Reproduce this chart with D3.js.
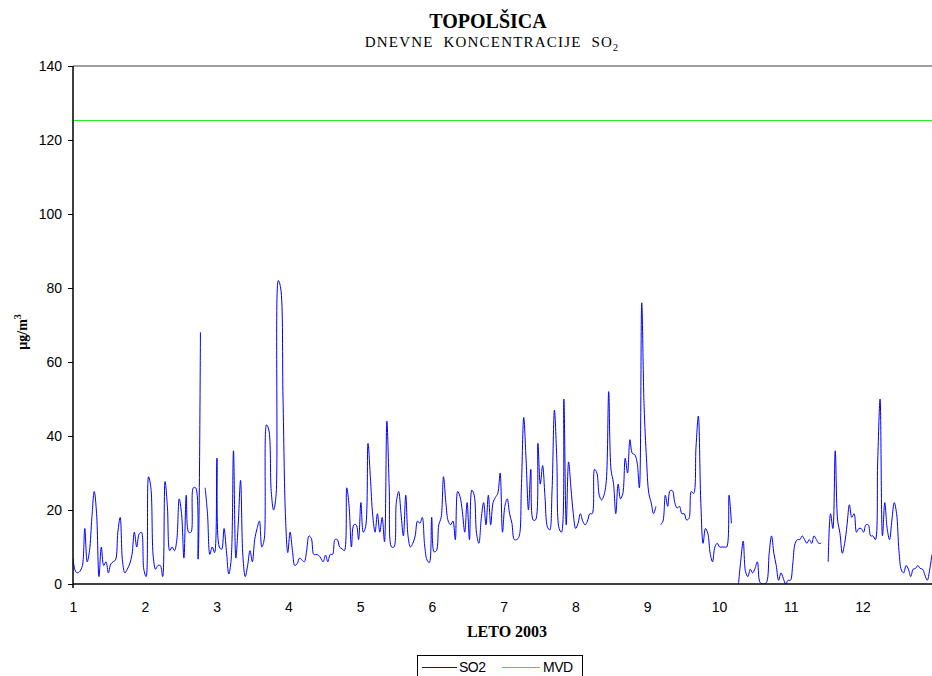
<!DOCTYPE html>
<html>
<head>
<meta charset="utf-8">
<script src="https://cdn.jsdelivr.net/npm/d3@7"></script>
<style>
  body { margin: 0; background: #fff; }
  svg { display: block; }
</style>
</head>
<body>
<svg id="chart" width="932" height="676"></svg>
<script>
// ---------- data ----------
const titleText = "TOPOLŠICA";
const subtitleText = "DNEVNE  KONCENTRACIJE  SO";
const xTitle = "LETO 2003";
const monthLabels = ["1","2","3","4","5","6","7","8","9","10","11","12"];
const yTicks = [0, 20, 40, 60, 80, 100, 120, 140];
const mvdLimit = 125;
const seriesNames = ["SO2", "MVD"];

// daily SO2 concentrations (µg/m3), day 0 = 1 Jan 2003; null = missing
const so2Daily = [
  7, 3.5, 3, 3.5, 5, 15, 6, 9, 18, 25,
  19, 2, 10, 5, 6, 3, 5.4, 6, 6.5, 14,
  18, 6, 3, 4, 5.4, 8, 14, 10, 13.5, 14,
  4, 2, 29, 26, 7.4, 4, 5, 5, 2, 27.7,
  21, 9, 10, 9, 12, 23, 19, 7, 24, 14,
  14, 26, 26, 6.7, 68, null, 26, 19, 8, 10,
  8.5, 34, 10, 9.4, 15, 9, 2.7, 6.5, 36, 7,
  16, 28, 7.4, 2, 5, 9, 6, 12, 15, 17,
  10, 12, 43, 41.6, 25, 20, 23.6, 82, 80, 50,
  19, 8.5, 14, 9, 5, 5.5, 7, 6.5, 6, 9,
  13, 12.3, 8, 8, 7.8, 7, 6, 7.8, 6, 8,
  8, 12, 12, 10, 9.5, 9, 26, 21, 10, 16,
  16, 12, 22, 14, 15.5, 38, 29, 18.6, 14, 19,
  14, 18, 11.4, 44, 26, 10, 10, 22, 25, 19,
  13, 24, 12.8, 10, 11, 13, 17, 16.4, 18, 10.5,
  6.5, 5.8, 18, 8.7, 9, 16, 18, 29, 22, 17,
  16, 17, 12, 25, 23.6, 19.5, 14, 22, 12, 25.4,
  24, 13.7, 11, 17.7, 22, 16, 24, 16, 22, 23.4,
  24.5, 30, 14, 21, 23, 19, 16.4, 12, 12, 12.8,
  26, 45, 33.5, 20, 31, 17.3, 17.3, 38, 27, 32,
  23.6, 15.5, 14.6, 25.4, 47, 34, 15, 14, 50, 16,
  33, 26, 19, 15, 16.4, 19, 17, 16, 17, 19,
  19, 31, 30, 24, 22.7, 24, 28, 52, 30.8, 27.4,
  19, 27, 23, 24.5, 34, 30, 39, 35.3, 35, 33,
  26, 76, 48, 34, 24.5, 22, 19, 21, null, 16,
  17, 24, 21, 25.2, 25.2, 22, 20.5, 21, 19, 19,
  17.3, 17.7, 25, 24.5, 37, 45.4, 22.7, 11, 15, 13.7,
  8.3, 6, 10, 11, 10, 10, 10, 10, 24, 16.4,
  null, null, 0, 6.5, 11.6, 3.3, 2, 4, 3, 4.2,
  6, 0.6, 0, 0, 0.6, 8.3, 13, 8.3, 5, 1,
  3, 1.5, 0, 1, 1, 5.4, 11, 12, 12, 13,
  12, 11, 12, 11, 13, 12, 11, 11, null, null,
  6, 19, 15, 36, 17.3, 13.7, 8.3, 11, 16, 21.4,
  18, 19, 14, 15, 15, 14, 16, 16, 13, 13,
  12, 33.5, 50, 13, 22, 15, 12, 17.3, 22, 19,
  9, 3.8, 3, 5, 4, 2, 4, 4.2, 5, 4.2,
  4, 2.4, 1, 3.8, 8
];

// ---------- layout ----------
const plot = { left: 73, right: 932, top: 66, bottom: 584 };
const BLUE = "#0000ff", GREEN = "#22ee22";

const svg = d3.select("#chart");

const x = d3.scaleLinear().domain([0, so2Daily.length - 1]).range([plot.left, plot.right]);
const y = d3.scaleLinear().domain([0, 140]).range([plot.bottom, plot.top]);
const monthTickDays = monthLabels.map((_, i) => i * 365 / 12);
const crisp = v => Math.round(v) + 0.5;

// clip
svg.append("defs").append("clipPath").attr("id", "plotclip")
  .append("rect").attr("x", plot.left).attr("y", plot.top)
  .attr("width", plot.right - plot.left).attr("height", plot.bottom - plot.top);

// top border line (gray)
svg.append("line")
  .attr("x1", plot.left).attr("x2", plot.right)
  .attr("y1", y(140)).attr("y2", y(140))
  .attr("stroke", "#808080").attr("stroke-width", 1.5);

// MVD line
svg.append("line")
  .attr("x1", plot.left).attr("x2", plot.right)
  .attr("y1", crisp(y(mvdLimit) - 1)).attr("y2", crisp(y(mvdLimit) - 1))
  .attr("stroke", GREEN).attr("stroke-width", 1)
  .attr("shape-rendering", "crispEdges");

// SO2 line
const line = d3.line()
  .defined(d => d != null)
  .x((d, i) => x(i))
  .y(d => y(d))
  .curve(d3.curveCatmullRom.alpha(0.5));

svg.append("path")
  .datum(so2Daily)
  .attr("clip-path", "url(#plotclip)")
  .attr("fill", "none")
  .attr("stroke", BLUE)
  .attr("stroke-width", 1)
  .attr("d", line);

// Y axis
const yAxis = d3.axisLeft(y).tickValues(yTicks).tickSize(5).tickPadding(6);
const gy = svg.append("g").attr("transform", `translate(${plot.left},0)`).call(yAxis);
gy.select(".domain").remove();
gy.selectAll(".tick line").attr("stroke", "#000");
gy.selectAll(".tick text").attr("font-family", "Liberation Sans, Arial, sans-serif")
  .attr("font-size", 14).attr("fill", "#000");
svg.append("line")
  .attr("x1", plot.left).attr("x2", plot.left)
  .attr("y1", plot.top).attr("y2", plot.bottom + 4)
  .attr("stroke", "#000").attr("stroke-width", 1.5);

// X axis
const xAxis = d3.axisBottom(x).tickValues(monthTickDays).tickSize(0).tickPadding(18)
  .tickFormat((d, i) => monthLabels[i]);
const gx = svg.append("g").attr("transform", `translate(0,${plot.bottom})`).call(xAxis);
gx.select(".domain").remove();
gx.selectAll(".tick text").attr("font-family", "Liberation Sans, Arial, sans-serif")
  .attr("font-size", 14).attr("fill", "#000");
svg.append("line")
  .attr("x1", plot.left).attr("x2", plot.right)
  .attr("y1", plot.bottom).attr("y2", plot.bottom)
  .attr("stroke", "#000").attr("stroke-width", 1.5);

// Titles
const serif = "Liberation Serif, Times New Roman, serif";
svg.append("text")
  .attr("x", 488).attr("y", 28)
  .attr("text-anchor", "middle")
  .attr("font-family", serif).attr("font-weight", "bold").attr("font-size", 20)
  .text(titleText);

const sub = svg.append("text")
  .attr("x", 492).attr("y", 47)
  .attr("text-anchor", "middle")
  .attr("font-family", serif).attr("font-size", 15)
  .attr("letter-spacing", 1.2)
  .style("white-space", "pre");
sub.append("tspan").text(subtitleText);
sub.append("tspan").attr("font-size", 10).attr("dy", 4).text("2");

// X title
svg.append("text")
  .attr("x", 507).attr("y", 637)
  .attr("text-anchor", "middle")
  .attr("font-family", serif).attr("font-weight", "bold").attr("font-size", 16)
  .text(xTitle);

// Y title
const yt = svg.append("text")
  .attr("transform", `translate(27,${(plot.top + plot.bottom) / 2 + 7}) rotate(-90)`)
  .attr("text-anchor", "middle")
  .attr("font-family", serif).attr("font-weight", "bold").attr("font-size", 14);
yt.append("tspan").text("µg/m");
yt.append("tspan").attr("font-size", 10).attr("dy", -6).text("3");

// Legend
const lg = svg.append("g");
lg.append("rect").attr("x", 417.5).attr("y", 655.5).attr("width", 165).attr("height", 30)
  .attr("fill", "#fff").attr("stroke", "#000").attr("stroke-width", 1);
const legendItems = [
  { name: seriesNames[0], color: BLUE, x1: 422, x2: 457, tx: 459 },
  { name: seriesNames[1], color: GREEN, x1: 502, x2: 540, tx: 543 }
];
legendItems.forEach(it => {
  lg.append("line").attr("x1", it.x1).attr("x2", it.x2).attr("y1", 667.5).attr("y2", 667.5)
    .attr("stroke", it.color).attr("stroke-width", 1).attr("shape-rendering", "crispEdges");
  lg.append("text").attr("x", it.tx).attr("y", 672)
    .attr("font-family", "Liberation Sans, Arial, sans-serif").attr("font-size", 14)
    .attr("letter-spacing", -0.5)
    .text(it.name);
});
</script>
</body>
</html>
